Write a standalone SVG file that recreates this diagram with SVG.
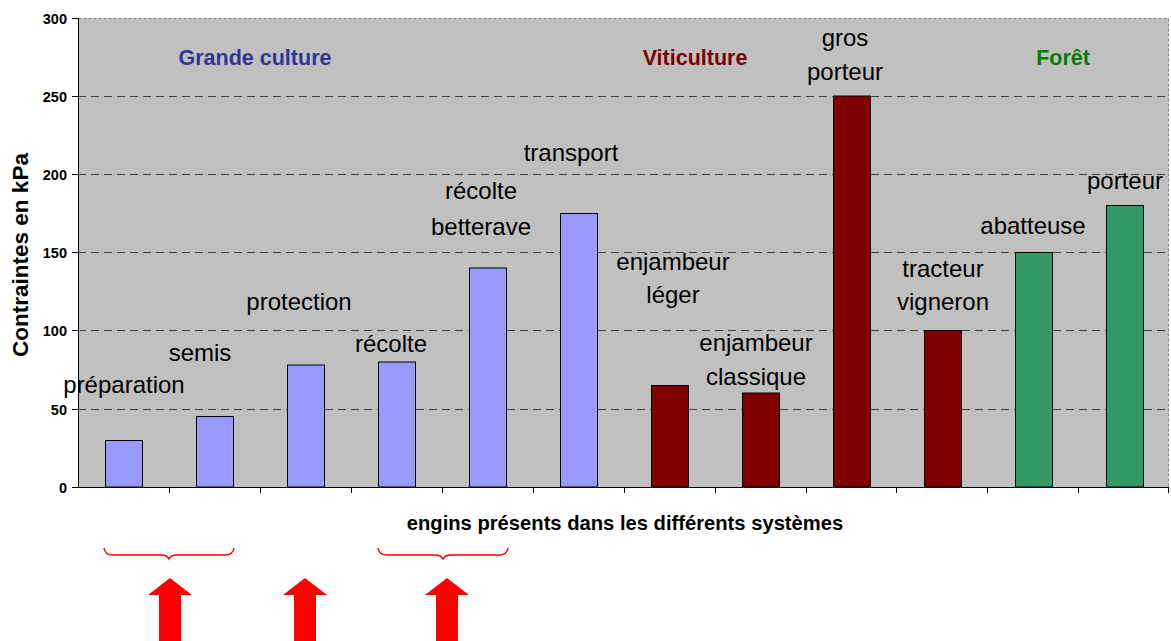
<svg xmlns="http://www.w3.org/2000/svg" width="1171" height="641" viewBox="0 0 1171 641">
<style>
.grid{stroke:#404040;stroke-width:1;stroke-dasharray:8 5;fill:none}
.axis{stroke:#000;stroke-width:1;fill:none}
.tick{font-family:"Liberation Sans",Arial,sans-serif;font-size:14.5px;font-weight:bold;fill:#000;text-anchor:end}
.lbl{font-family:"Liberation Sans",Arial,sans-serif;font-size:24px;fill:#000;text-anchor:middle}
.grp{font-family:"Liberation Sans",Arial,sans-serif;font-size:21.5px;font-weight:bold;text-anchor:middle}
.ttl{font-family:"Liberation Sans",Arial,sans-serif;font-size:20.2px;font-weight:bold;fill:#000;text-anchor:middle}
.ytl{font-size:22.5px}
.gc{fill:#9999FF;stroke:#000;stroke-width:1}
.vi{fill:#800000;stroke:#000;stroke-width:1}
.fo{fill:#339966;stroke:#000;stroke-width:1}
.brace{stroke:#FF0000;stroke-width:1.5;fill:none}
.arrow{fill:#FF0000}
</style>
<rect width="1171" height="641" fill="#fff"/>
<g id="plot">
<rect x="78.5" y="18.5" width="1090" height="469" fill="#C0C0C0" stroke="#808080" stroke-width="1" stroke-dasharray="3 2"/>
<line class="grid" x1="78" y1="96.5" x2="1169" y2="96.5"/>
<line class="grid" x1="78" y1="174.5" x2="1169" y2="174.5"/>
<line class="grid" x1="78" y1="252.5" x2="1169" y2="252.5"/>
<line class="grid" x1="78" y1="330.5" x2="1169" y2="330.5"/>
<line class="grid" x1="78" y1="409.5" x2="1169" y2="409.5"/>
</g>
<g id="bars">
<rect class="gc" x="105.5" y="440.5" width="37" height="46.5"/>
<rect class="gc" x="196.5" y="416.5" width="37" height="70.5"/>
<rect class="gc" x="287.5" y="365" width="37" height="122"/>
<rect class="gc" x="378.5" y="362" width="37" height="125"/>
<rect class="gc" x="469.5" y="268" width="37" height="219"/>
<rect class="gc" x="560.5" y="213.5" width="37" height="273.5"/>
<rect class="vi" x="651.5" y="385.5" width="37" height="101.5"/>
<rect class="vi" x="742.5" y="393" width="37" height="94"/>
<rect class="vi" x="833.5" y="96" width="37" height="391"/>
<rect class="vi" x="924.5" y="330.5" width="37" height="156.5"/>
<rect class="fo" x="1015.5" y="252.5" width="37" height="234.5"/>
<rect class="fo" x="1106.5" y="205.5" width="37" height="281.5"/>
</g>
<g id="axes">
<path class="axis" d="M78.5 18 V487.5 H1169"/>
<path class="axis" d="M72 18.5 H78 M72 96.5 H78 M72 174.5 H78 M72 252.5 H78 M72 330.5 H78 M72 409.5 H78 M72 487.5 H78"/>
<path class="axis" d="M169.5 487 V493 M260.5 487 V493 M351.5 487 V493 M442.5 487 V493 M533.5 487 V493 M624.5 487 V493 M715.5 487 V493 M806.5 487 V493 M896.5 487 V493 M987.5 487 V493 M1078.5 487 V493 M1168.5 487 V493"/>
<text class="tick" x="67" y="23.5">300</text>
<text class="tick" x="67" y="101.5">250</text>
<text class="tick" x="67" y="179.5">200</text>
<text class="tick" x="67" y="257.5">150</text>
<text class="tick" x="67" y="335.5">100</text>
<text class="tick" x="67" y="414.5">50</text>
<text class="tick" x="67" y="492.5">0</text>
<text class="ttl ytl" transform="translate(28 255) rotate(-90)">Contraintes en kPa</text>
<text class="ttl" x="625" y="530">engins présents dans les différents systèmes</text>
</g>
<g id="groups">
<text class="grp" x="255" y="65" fill="#333399">Grande culture</text>
<text class="grp" x="695" y="65" fill="#800000">Viticulture</text>
<text class="grp" x="1063" y="65" fill="#008000">Forêt</text>
</g>
<g id="labels">
<text class="lbl" x="124" y="393">préparation</text>
<text class="lbl" x="200" y="361">semis</text>
<text class="lbl" x="299" y="310">protection</text>
<text class="lbl" x="391" y="352">récolte</text>
<text class="lbl" x="481" y="199">récolte</text>
<text class="lbl" x="481" y="235">betterave</text>
<text class="lbl" x="571" y="161">transport</text>
<text class="lbl" x="673" y="270">enjambeur</text>
<text class="lbl" x="673" y="303">léger</text>
<text class="lbl" x="756" y="351">enjambeur</text>
<text class="lbl" x="756" y="385">classique</text>
<text class="lbl" x="845" y="46">gros</text>
<text class="lbl" x="845" y="80">porteur</text>
<text class="lbl" x="943" y="277">tracteur</text>
<text class="lbl" x="943" y="310">vigneron</text>
<text class="lbl" x="1033" y="234">abatteuse</text>
<text class="lbl" x="1125" y="189">porteur</text>
</g>
<g id="annotations">
<path class="brace" d="M104 548 Q105 555 113 555 H161 Q167 555 169 559 Q171 555 177 555 H225 Q233 555 234 548"/>
<path class="brace" d="M378 548 Q379 555 387 555 H435 Q441 555 443 559 Q445 555 451 555 H499 Q507 555 508 548"/>
<polygon class="arrow" points="170,578 192,595 181,595 181,641 159,641 159,595 148,595"/>
<polygon class="arrow" points="305,578 327,595 316,595 316,641 294,641 294,595 283,595"/>
<polygon class="arrow" points="447,578 469,595 458,595 458,641 436,641 436,595 425,595"/>
</g>
</svg>
